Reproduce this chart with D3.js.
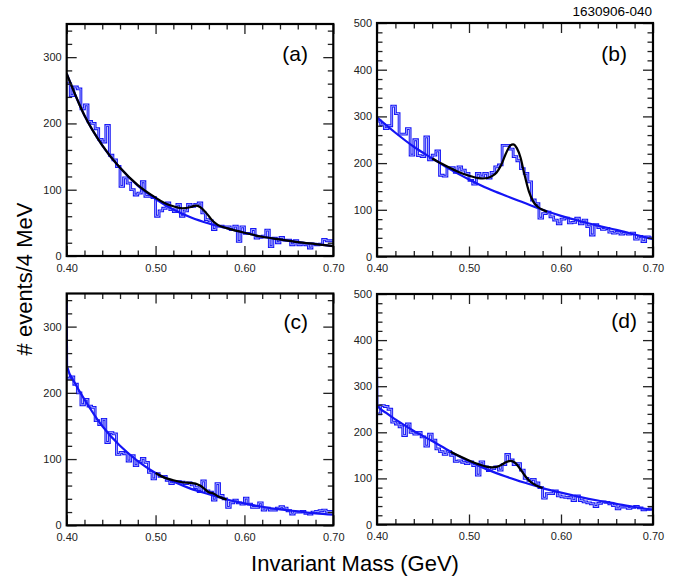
<!DOCTYPE html>
<html>
<head>
<meta charset="utf-8">
<script src="https://cdn.jsdelivr.net/npm/d3@7"></script>
<style>
  body { margin: 0; background: #fff; }
  svg { display: block; font-family: "Liberation Sans", Arial, Helvetica, sans-serif; }
</style>
</head>
<body>
<script>
// histogram: 75 bins of 4 MeV from 0.400 to 0.700 GeV
const massMin = 0.400, massMax = 0.700, binWidth = 0.004;

const countsA = [260,242,255,252,222,228,203,200,192,176,
  172,197,152,145,135,105,118,110,100,92,
  95,112,90,90,88,60,68,72,80,70,
  67,78,60,68,78,75,78,80,65,55,
  53,40,45,45,44,44,40,45,22,44,
  34,34,40,27,28,30,39,14,27,20,
  28,24,24,17,23,17,18,17,12,18,
  17,18,25,23,23];

const countsB = [290,282,274,280,322,306,262,262,274,217,
  250,216,214,256,207,217,226,174,172,190,
  190,180,192,185,178,163,155,178,172,178,
  168,180,192,196,238,238,230,214,205,188,
  178,160,121,113,82,92,95,85,78,70,
  80,82,72,73,82,70,78,64,46,68,
  62,58,60,52,50,52,48,50,48,50,
  37,43,32,42,40];

const countsC = [222,224,213,200,182,190,180,178,158,152,
  160,125,140,138,107,110,108,97,105,90,
  96,101,95,80,70,78,74,74,68,63,
  66,66,65,63,64,61,57,51,67,52,
  50,38,63,45,40,27,34,38,34,32,
  41,32,27,27,34,23,26,23,23,26,
  28,26,22,17,20,20,21,18,17,20,
  21,22,23,21,21];

const countsD = [240,258,256,250,222,218,212,193,218,200,
  196,200,190,170,196,183,164,158,152,158,
  150,137,138,135,132,136,128,107,136,125,
  117,121,125,118,130,152,140,130,132,118,
  100,96,98,90,80,57,67,67,73,62,
  60,59,58,52,62,52,49,47,45,39,
  46,49,48,45,41,34,38,38,35,37,
  39,36,32,33,34];

// background fits (blue) and full fits (black) as [mass, events]
const bgA = [[0.40,275],[0.42,212],[0.44,167],[0.46,133],[0.48,106],[0.50,86],[0.52,70],[0.54,58],
  [0.56,49],[0.58,42],[0.60,35],[0.62,29],[0.64,25],[0.66,21],[0.68,18],[0.70,15]];
const fitA = [[0.40,275],[0.42,212],[0.44,167],[0.46,133],[0.48,107],[0.50,88],[0.51,80],[0.52,75],
  [0.53,72],[0.54,74],[0.545,76],[0.55,74],[0.555,68],[0.56,60],[0.565,52],[0.57,47],[0.575,44],
  [0.58,42],[0.60,35],[0.62,29],[0.64,25],[0.66,21],[0.68,18],[0.70,15]];

const bgB = [[0.40,298],[0.42,265],[0.44,235],[0.46,210],[0.48,186],[0.50,165],[0.52,146],[0.54,130],
  [0.56,115],[0.58,100],[0.60,87],[0.62,76],[0.64,66],[0.66,57],[0.68,47],[0.70,37]];
const fitB = [[0.46,210],[0.47,199],[0.48,189],[0.49,180],[0.50,173],[0.51,168],[0.515,167],[0.52,168],
  [0.525,172],[0.53,180],[0.535,196],[0.54,220],[0.545,238],[0.548,240],[0.552,232],[0.556,212],
  [0.56,178],[0.565,140],[0.57,117],[0.575,106],[0.58,100],[0.585,96]];

const bgC = [[0.400,342],[0.4004,240],[0.41,213],[0.42,190],[0.44,150],[0.46,120],[0.48,97],[0.50,79],
  [0.52,66],[0.54,55],[0.56,47],[0.58,39],[0.60,33],[0.62,28],[0.64,24],[0.66,21],[0.68,18],[0.70,16]];
const fitC = [[0.50,79],[0.51,72],[0.52,68],[0.53,65],[0.54,64],[0.545,63],[0.55,60],[0.555,55],
  [0.56,50],[0.565,48],[0.57,44],[0.575,41],[0.58,39]];

const bgD = [[0.400,342],[0.4004,258],[0.41,242],[0.42,228],[0.44,203],[0.46,181],[0.48,158],[0.50,137],
  [0.52,119],[0.54,104],[0.56,91],[0.58,79],[0.60,69],[0.62,60],[0.64,52],[0.66,45],[0.68,38],[0.70,32]];
const fitD = [[0.48,158],[0.49,148],[0.50,139],[0.51,131],[0.52,125],[0.525,124],[0.53,125],[0.535,129],
  [0.54,135],[0.545,138],[0.55,134],[0.555,122],[0.56,108],[0.565,96],[0.57,88],[0.575,83],[0.58,79]];

const xMajor = [0.40, 0.50, 0.60, 0.70];
const panelLabels = ["(a)", "(b)", "(c)", "(d)"];
const figureId = "1630906-040";
const xTitle = "Invariant Mass (GeV)";
const yTitle = "# events/4 MeV";

const width = 683, height = 580;
const blue = "#1414f5";

const svg = d3.select("body").append("svg")
    .attr("width", width)
    .attr("height", height);

const panels = [
  {label: panelLabels[0], counts: countsA, bg: bgA, fit: fitA, yMax: 350,
   left: 66.7, right: 333.3, top: 24, bottom: 256, lx: 308, ly: 61},
  {label: panelLabels[1], counts: countsB, bg: bgB, fit: fitB, yMax: 500,
   left: 377, right: 653, top: 23, bottom: 256.5, lx: 627, ly: 61},
  {label: panelLabels[2], counts: countsC, bg: bgC, fit: fitC, yMax: 350,
   left: 66.7, right: 333.3, top: 293.5, bottom: 525.3, lx: 308, ly: 329},
  {label: panelLabels[3], counts: countsD, bg: bgD, fit: fitD, yMax: 500,
   left: 377, right: 653, top: 294, bottom: 524.5, lx: 637, ly: 328}
];

const binStarts = d3.range(countsA.length).map(i => +(massMin + i * binWidth).toFixed(3));
const xMinor = d3.range(0, 16).map(i => +(massMin + i * 0.02).toFixed(2)).filter(v => !xMajor.includes(v));

panels.forEach((p, i) => {
  const x = d3.scaleLinear().domain([massMin, massMax]).range([p.left, p.right]);
  const y = d3.scaleLinear().domain([0, p.yMax]).range([p.bottom, p.top]);

  const g = svg.append("g");

  g.append("clipPath")
      .attr("id", "clip" + i)
    .append("rect")
      .attr("x", p.left)
      .attr("y", p.top)
      .attr("width", p.right - p.left)
      .attr("height", p.bottom - p.top);

  const plot = g.append("g").attr("clip-path", `url(#clip${i})`);

  // histogram outline
  const pts = p.counts.map((c, j) => [binStarts[j], c]);
  pts.push([massMax, p.counts[p.counts.length - 1]]);
  const step = d3.line()
      .curve(d3.curveStepAfter)
      .x(d => x(d[0]))
      .y(d => y(d[1]));

  plot.append("path")
      .attr("d", step(pts))
      .attr("fill", "none")
      .attr("stroke", blue)
      .attr("stroke-width", 2.8);

  plot.append("path")
      .attr("d", step(pts))
      .attr("fill", "none")
      .attr("stroke", "#aab0ff")
      .attr("stroke-width", 0.9);

  const curve = d3.line()
      .curve(d3.curveMonotoneX)
      .x(d => x(d[0]))
      .y(d => y(d[1]));

  plot.append("path")
      .attr("d", curve(p.bg))
      .attr("fill", "none")
      .attr("stroke", blue)
      .attr("stroke-width", 2.2);

  plot.append("path")
      .attr("d", curve(p.fit))
      .attr("fill", "none")
      .attr("stroke", "#000")
      .attr("stroke-width", 2.2);

  // ticks, inward on all four sides
  const yMajor = d3.range(0, p.yMax + 1, 100);
  const yMinor = d3.range(0, p.yMax + 1, 20).filter(v => v % 100 !== 0);

  const addAxis = (axis, tx, ty, labels) => {
    const a = g.append("g")
        .attr("transform", `translate(${tx},${ty})`)
        .call(axis);
    a.select(".domain").remove();
    a.selectAll("line").attr("stroke", "#222").attr("stroke-width", 1.3);
    a.selectAll("text")
        .attr("fill", "#222")
        .style("font-size", "11px")
        .style("font-family", "'Liberation Sans', Arial, sans-serif");
    if (!labels) a.selectAll("text").remove();
  };

  addAxis(d3.axisBottom(x).tickValues(xMajor).tickSize(-10).tickPadding(8)
      .tickFormat(d3.format(".2f")), 0, p.bottom, true);
  addAxis(d3.axisBottom(x).tickValues(xMinor).tickSize(-5.5), 0, p.bottom, false);
  addAxis(d3.axisTop(x).tickValues(xMajor).tickSize(-10), 0, p.top, false);
  addAxis(d3.axisTop(x).tickValues(xMinor).tickSize(-5.5), 0, p.top, false);
  addAxis(d3.axisLeft(y).tickValues(yMajor).tickSize(-10).tickPadding(5)
      .tickFormat(d3.format("d")), p.left, 0, true);
  addAxis(d3.axisLeft(y).tickValues(yMinor).tickSize(-5.5), p.left, 0, false);
  addAxis(d3.axisRight(y).tickValues(yMajor).tickSize(-10), p.right, 0, false);
  addAxis(d3.axisRight(y).tickValues(yMinor).tickSize(-5.5), p.right, 0, false);

  g.append("rect")
      .attr("x", p.left)
      .attr("y", p.top)
      .attr("width", p.right - p.left)
      .attr("height", p.bottom - p.top)
      .attr("fill", "none")
      .attr("stroke", "#000")
      .attr("stroke-width", 2.2);

  g.append("text")
      .attr("x", p.lx)
      .attr("y", p.ly)
      .attr("text-anchor", "end")
      .attr("font-size", 21)
      .text(p.label);
});

svg.append("text")
    .attr("x", 652)
    .attr("y", 16)
    .attr("text-anchor", "end")
    .attr("font-size", 13.5)
    .text(figureId);

svg.append("text")
    .attr("x", 355)
    .attr("y", 571)
    .attr("text-anchor", "middle")
    .attr("font-size", 22)
    .text(xTitle);

svg.append("text")
    .attr("transform", "translate(32,279) rotate(-90)")
    .attr("text-anchor", "middle")
    .attr("font-size", 22)
    .text(yTitle);
</script>
</body>
</html>
